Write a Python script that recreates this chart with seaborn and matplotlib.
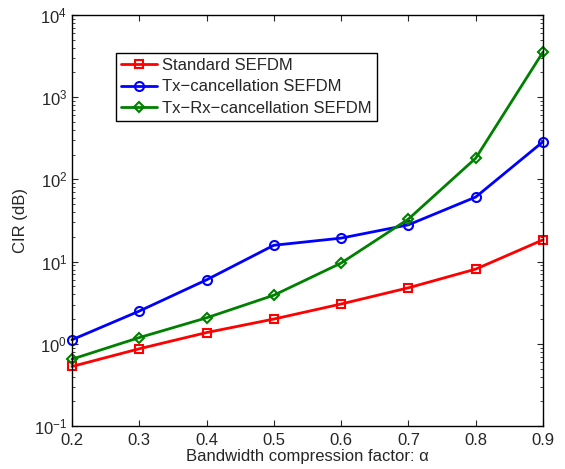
import numpy as np
import pandas as pd
import matplotlib
matplotlib.use("Agg")
import matplotlib.pyplot as plt
import seaborn as sns

# data
alpha = [0.2, 0.3, 0.4, 0.5, 0.6, 0.7, 0.8, 0.9]
standard = [0.53, 0.87, 1.37, 2.0, 3.05, 4.8, 8.1, 18.4]
tx_cancel = [1.12, 2.5, 6.0, 15.8, 19.3, 28.0, 61.0, 287.0]
txrx_cancel = [0.65, 1.19, 2.07, 3.9, 9.6, 32.9, 181.0, 3540.0]

labels = ["Standard SEFDM", "Tx\u2212cancellation SEFDM", "Tx\u2212Rx\u2212cancellation SEFDM"]
colors = ["#ff0000", "#0000ff", "#008000"]
markers = ["s", "o", "D"]
msizes = [5.5, 6.5, 5.5]

sns.set_style("ticks")
plt.rcParams["font.family"] = ["Liberation Sans", "DejaVu Sans"]

fig = plt.figure(figsize=(5.65, 4.69), dpi=100)
ax = fig.add_axes([0.1274, 0.0917, 0.8336, 0.8763])

for vals, lab, c, m, ms in zip([standard, tx_cancel, txrx_cancel], labels, colors, markers, msizes):
    df = pd.DataFrame({"alpha": alpha, "cir": vals})
    sns.lineplot(data=df, x="alpha", y="cir", ax=ax, color=c, linewidth=2,
                 marker=m, markersize=ms, markerfacecolor="none",
                 markeredgecolor=c, markeredgewidth=1.5, label=lab, clip_on=False)

ax.set_yscale("log")
ax.set_xlim(0.2, 0.9)
ax.set_ylim(0.1, 1e4)
ax.set_xticks(alpha)
ax.set_xticklabels([f"{a:.1f}" for a in alpha])
ax.tick_params(which="both", direction="in", top=True, right=True, labelsize=12)
ax.tick_params(axis="x", pad=5)
ax.tick_params(which="major", length=4)
ax.tick_params(which="minor", length=2)
for s in ax.spines.values():
    s.set_linewidth(1)
    s.set_color("black")

ax.set_xlabel("Bandwidth compression factor: \u03b1", fontsize=12, labelpad=1)
ax.set_ylabel("CIR (dB)", fontsize=12, labelpad=4)

leg = ax.legend(loc="upper left", bbox_to_anchor=(0.093, 0.908), fontsize=12,
                frameon=True, fancybox=False, edgecolor="black", framealpha=1,
                handlelength=2.2, handletextpad=0.3, borderpad=0.3, labelspacing=0.4,
                borderaxespad=0)
leg.get_frame().set_linewidth(1)

fig.savefig("out.png", dpi=100)
